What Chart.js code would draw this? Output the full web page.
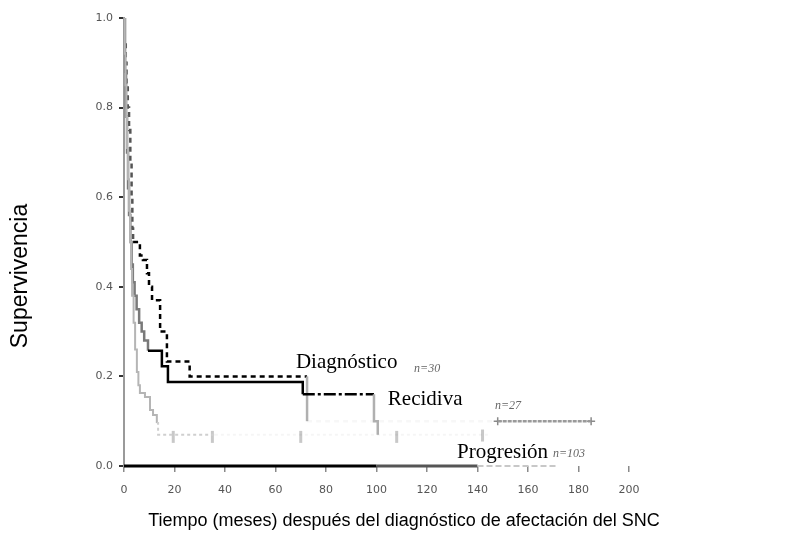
<!DOCTYPE html>
<html><head><meta charset="utf-8">
<script src="https://cdn.jsdelivr.net/npm/chart.js@4.4.0/dist/chart.umd.min.js"></script>
<style>html,body{margin:0;padding:0;background:#fff}</style>
</head><body>
<canvas id="c" width="805" height="542"></canvas>
<script>
// ---- data ----
const xTicks = [0, 20, 40, 60, 80, 100, 120, 140, 160, 180, 200];
const yTicks = [0, 0.2, 0.4, 0.6, 0.8, 1.0];
const yTickLabels = ['0.0', '0.2', '0.4', '0.6', '0.8', '1.0'];

const xTitle = 'Tiempo (meses) después del diagnóstico de afectación del SNC';
const yTitle = 'Supervivencia';

const seriesNames = ['Diagnóstico', 'Recidiva', 'Progresión'];
const seriesN = ['n=30', 'n=27', 'n=103'];

// Diagnóstico (dashed)
const diagTime = [0, 0.3, 0.7, 1.0, 1.5, 2.0, 2.5, 3.0, 3.3, 3.6, 6.3, 7.5, 9.1, 9.9, 11.1, 14.3, 17, 26, 72.5, 72.5, 148, 185];
const diagSurv = [1.0, 0.95, 0.9, 0.85, 0.8, 0.75, 0.68, 0.6, 0.53, 0.5, 0.47, 0.46, 0.43, 0.40, 0.37, 0.30, 0.233, 0.2, 0.2, 0.1, 0.1, 0.1];

// Recidiva (solid, then dash-dot)
const recTime = [0, 0.4, 0.8, 1.2, 1.6, 2.0, 2.5, 3.0, 3.5, 4.2, 5, 6, 7, 8, 9.5, 15, 17.4, 70.8, 99, 99, 100.5];
const recSurv = [1.0, 0.88, 0.78, 0.7, 0.62, 0.56, 0.5, 0.45, 0.41, 0.38, 0.35, 0.32, 0.3, 0.28, 0.257, 0.2225, 0.1875, 0.16, 0.16, 0.1, 0.07];

// Progresión (light grey)
const progTime = [0, 0.3, 0.6, 0.9, 1.2, 1.6, 2.0, 2.4, 2.8, 3.2, 3.8, 4.4, 5.1, 5.7, 6.3, 8.3, 10.3, 11.5, 13, 13.5, 36, 145];
const progSurv = [1.0, 0.92, 0.85, 0.78, 0.71, 0.64, 0.57, 0.5, 0.44, 0.38, 0.32, 0.26, 0.21, 0.18, 0.163, 0.154, 0.125, 0.114, 0.096, 0.07, 0.07, 0.07];

// censored observations
const progCensorTime = [19.5, 35, 70, 108, 142];
const progCensorSurv = [0.065, 0.065, 0.065, 0.065, 0.068];
const lateCensorTime = [148, 185];
const lateCensorSurv = [0.1, 0.1];

// ---- helpers ----
const pts = (t, s) => t.map((x, i) => ({ x: x, y: s[i] }));
const isVertical = c => c.p0.parsed.x === c.p1.parsed.x;

const baselinePlugin = {
  id: 'baseline',
  beforeDatasetsDraw(chart) {
    const { ctx, scales: { x, y } } = chart;
    const y0 = y.getPixelForValue(0);
    const segs = [[0, 100, '#000', 3, []], [100, 140, '#555', 3, []], [140, 172, '#c8c8c8', 2, [6, 3]]];
    ctx.save();
    segs.forEach(([a, b, col, w, dash]) => {
      ctx.beginPath();
      ctx.setLineDash(dash);
      ctx.strokeStyle = col; ctx.lineWidth = w;
      ctx.moveTo(x.getPixelForValue(a), y0);
      ctx.lineTo(x.getPixelForValue(b), y0);
      ctx.stroke();
    });
    ctx.restore();
  }
};

const labelPlugin = {
  id: 'labels',
  afterDraw(chart) {
    const { ctx, scales: { x, y } } = chart;
    ctx.save();
    ctx.fillStyle = '#000';
    ctx.textBaseline = 'alphabetic';
    ctx.textAlign = 'left';
    ctx.font = '21px "Liberation Serif", "Times New Roman", serif';
    const namePos = [[68.1, 0.218], [104.5, 0.136], [131.9, 0.018]];
    seriesNames.forEach((t, i) => ctx.fillText(t, x.getPixelForValue(namePos[i][0]), y.getPixelForValue(namePos[i][1])));
    ctx.font = 'italic 12px "Liberation Serif", serif';
    ctx.fillStyle = '#666';
    const nPos = [[114.9, 0.21], [146.9, 0.127], [169.9, 0.02]];
    seriesN.forEach((t, i) => ctx.fillText(t, x.getPixelForValue(nPos[i][0]), y.getPixelForValue(nPos[i][1])));
    ctx.fillStyle = '#000';
    ctx.textAlign = 'center';
    ctx.textBaseline = 'middle';
    ctx.font = '18px "Liberation Sans", Arial, sans-serif';
    ctx.fillText(xTitle, 404, 521);
    ctx.translate(21, 276);
    ctx.rotate(-Math.PI / 2);
    ctx.font = '23px "Liberation Sans", Arial, sans-serif';
    ctx.fillText(yTitle, 0, 0);
    ctx.restore();
  }
};

new Chart(document.getElementById('c'), {
  type: 'line',
  data: {
    datasets: [
      {
        label: seriesNames[2],
        data: pts(progTime, progSurv),
        stepped: true,
        borderColor: '#bdbdbd',
        borderWidth: 2,
        pointRadius: 0,
        segment: {
          borderColor: c => c.p0.parsed.x >= 36 ? 'rgba(0,0,0,0.04)' : (c.p0.parsed.x >= 13 ? '#cfcfcf' : '#b5b5b5'),
          borderDash: c => c.p0.parsed.x >= 13 ? [3, 3] : undefined
        }
      },
      {
        label: seriesNames[1],
        data: pts(recTime, recSurv),
        stepped: true,
        borderColor: '#000',
        borderWidth: 2.5,
        pointRadius: 0,
        segment: {
          borderColor: c => (isVertical(c) || c.p0.parsed.x >= 99) ? '#b0b0b0' : (c.p0.parsed.x < 9 ? '#7a7a7a' : '#000'),
          borderDash: c => (c.p0.parsed.x >= 70 && !isVertical(c) && c.p0.parsed.x < 99) ? [12, 3, 3, 3] : undefined
        }
      },
      {
        label: seriesNames[0],
        data: pts(diagTime, diagSurv),
        stepped: true,
        borderColor: '#000',
        borderWidth: 2.5,
        pointRadius: 0,
        borderDash: [5, 4],
        segment: {
          borderColor: c => isVertical(c) ? '#b0b0b0' : (c.p0.parsed.x >= 148 ? '#9a9a9a' : (c.p0.parsed.x >= 72 ? 'rgba(0,0,0,0.03)' : (c.p0.parsed.x < 3.5 ? '#555' : '#000'))),
          borderDash: c => isVertical(c) ? [] : (c.p0.parsed.x >= 148 ? [4, 1] : [5, 4])
        }
      },
      {
        label: 'censored-prog',
        data: pts(progCensorTime, progCensorSurv),
        showLine: false,
        pointStyle: 'line',
        rotation: 90,
        pointRadius: 6,
        pointBorderWidth: 3,
        pointBorderColor: '#c8c8c8',
        pointBackgroundColor: '#c8c8c8'
      },
      {
        label: 'censored-late',
        data: pts(lateCensorTime, lateCensorSurv),
        showLine: false,
        pointStyle: 'cross',
        pointRadius: 4,
        pointBorderWidth: 1.5,
        pointBorderColor: '#8a8a8a'
      }
    ]
  },
  options: {
    responsive: false,
    animation: false,
    events: [],
    layout: { padding: { left: 0, top: 18, right: 176, bottom: 0 } },
    plugins: { legend: { display: false }, tooltip: { enabled: false } },
    scales: {
      x: {
        type: 'linear',
        min: 0, max: 200,
        afterFit: s => { s.height = 76; },
        afterBuildTicks: s => { s.ticks = xTicks.map(v => ({ value: v })); },
        border: { display: false },
        grid: { drawOnChartArea: false, drawTicks: true, tickLength: 6, color: '#8a8a8a', lineWidth: 1.5 },
        ticks: { padding: 12, color: '#555', font: { family: '"DejaVu Sans", sans-serif', size: 11 }, maxRotation: 0, callback: v => String(v) }
      },
      y: {
        type: 'linear',
        min: 0, max: 1,
        afterFit: s => { s.width = 124; },
        afterBuildTicks: s => { s.ticks = yTicks.map(v => ({ value: v })); },
        border: { display: true, color: '#9a9a9a', width: 2 },
        grid: { drawOnChartArea: false, drawTicks: true, tickLength: 5, color: '#333', lineWidth: 2 },
        ticks: { padding: 6, color: '#555', font: { family: '"DejaVu Sans", sans-serif', size: 11 }, callback: (v) => yTickLabels[yTicks.indexOf(v)] ?? '' }
      }
    }
  },
  plugins: [baselinePlugin, labelPlugin]
});
</script>
</body></html>
